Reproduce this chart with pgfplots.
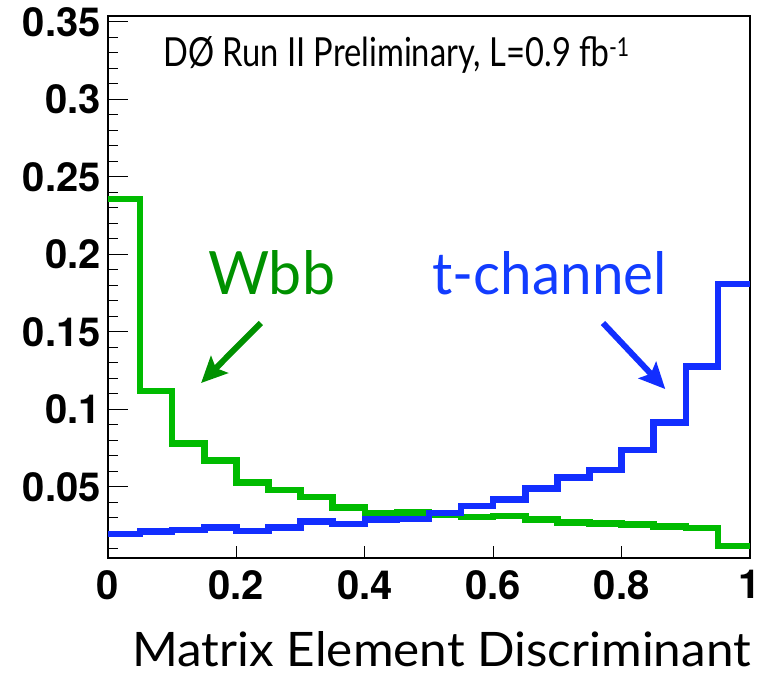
\documentclass[border=0pt]{standalone}
\usepackage{fontspec}
\setmainfont{Lato}
\newfontfamily\tickfont{TeX Gyre Heros}
\usepackage{pgfplots}
\pgfplotsset{compat=1.18}
\usetikzlibrary{arrows.meta}
\definecolor{wbbline}{RGB}{0,187,0}
\definecolor{wbbtext}{RGB}{0,145,0}
\definecolor{tline}{RGB}{18,46,255}
\definecolor{ttext}{RGB}{18,60,255}
\pgfplotstableread{
x y
0.00 0.2356
0.05 0.1117
0.10 0.0780
0.15 0.0668
0.20 0.0528
0.25 0.0479
0.30 0.0432
0.35 0.0365
0.40 0.0329
0.45 0.0333
0.50 0.0317
0.55 0.0303
0.60 0.0310
0.65 0.0289
0.70 0.0270
0.75 0.0264
0.80 0.0257
0.85 0.0242
0.90 0.0232
0.95 0.0117
1.00 0.0117
}\wbb
\pgfplotstableread{
x y
0.00 0.0196
0.05 0.0211
0.10 0.0221
0.15 0.0238
0.20 0.0215
0.25 0.0238
0.30 0.0274
0.35 0.0259
0.40 0.0289
0.45 0.0293
0.50 0.0330
0.55 0.0375
0.60 0.0419
0.65 0.0490
0.70 0.0561
0.75 0.0608
0.80 0.0737
0.85 0.0915
0.90 0.1274
0.95 0.1808
1.00 0.1808
}\tchan
\begin{document}
\begin{tikzpicture}
\begin{axis}[
  scale only axis,
  width=642bp, height=542bp,
  xmin=0, xmax=1, ymin=0.004, ymax=0.3537,
  axis line style={line width=1.2bp},
  tick align=inside,
  xtick pos=bottom, ytick pos=left,
  xtick={0,0.2,0.4,0.6,0.8,1},
  xticklabels={0,0.2,0.4,0.6,0.8,1},
  ytick={0.05,0.1,0.15,0.2,0.25,0.3,0.35},
  yticklabels={0.05,0.1,0.15,0.2,0.25,0.3,0.35},
  minor ytick={0.01,0.02,0.03,0.04,0.06,0.07,0.08,0.09,0.11,0.12,0.13,0.14,0.16,0.17,0.18,0.19,0.21,0.22,0.23,0.24,0.26,0.27,0.28,0.29,0.31,0.32,0.33,0.34},
  xtick style={line width=0.9bp, black, /pgfplots/major tick length=12bp},
  ytick style={line width=0.9bp, black, /pgfplots/major tick length=20bp, /pgfplots/minor tick length=10bp},
  xticklabel style={font=\tickfont\bfseries\fontsize{40bp}{46bp}\selectfont, inner sep=0pt, anchor=north, yshift=-12bp},
  yticklabel style={font=\tickfont\bfseries\fontsize{40bp}{46bp}\selectfont, inner sep=0pt, anchor=east, xshift=-7bp},
  xlabel={\resizebox{618bp}{35bp}{Matrix Element Discriminant}},
  every axis x label/.style={at={(rel axis cs:1,0)}, anchor=base east, inner sep=0pt, yshift=-108bp, xshift=1bp},
]
\addplot[const plot mark left, line width=6.5bp, wbbline, line join=miter] table[x=x,y=y] {\wbb};
\addplot[const plot mark left, line width=6.5bp, tline, line join=miter] table[x=x,y=y] {\tchan};
\node[anchor=base west, inner sep=0pt] at (axis cs:0.0857,0.3214) {\resizebox{466bp}{30bp}{DØ Run II Preliminary, L=0.9 fb\raisebox{0.25em}{\scalebox{0.65}{-1}}}};
\node[anchor=base, inner sep=0pt, text=wbbtext] at (axis cs:0.2547,0.1737) {\resizebox{127bp}{44bp}{Wbb}};
\node[anchor=base, inner sep=0pt, text=ttext] at (axis cs:0.688,0.1737) {\resizebox{234bp}{43bp}{t-channel}};
\draw[wbbtext, line width=6bp, -{Stealth[length=26bp,width=24bp,inset=5bp]}] (axis cs:0.238,0.1556) -- (axis cs:0.145,0.1169);
\draw[tline, line width=6bp, -{Stealth[length=26bp,width=24bp,inset=5bp]}] (axis cs:0.771,0.1556) -- (axis cs:0.868,0.113);
\end{axis}
\pgfresetboundingbox
\path ([xshift=-108bp,yshift=-117bp]current axis.south west) rectangle ([xshift=10bp,yshift=16bp]current axis.north east);
\end{tikzpicture}
\end{document}
